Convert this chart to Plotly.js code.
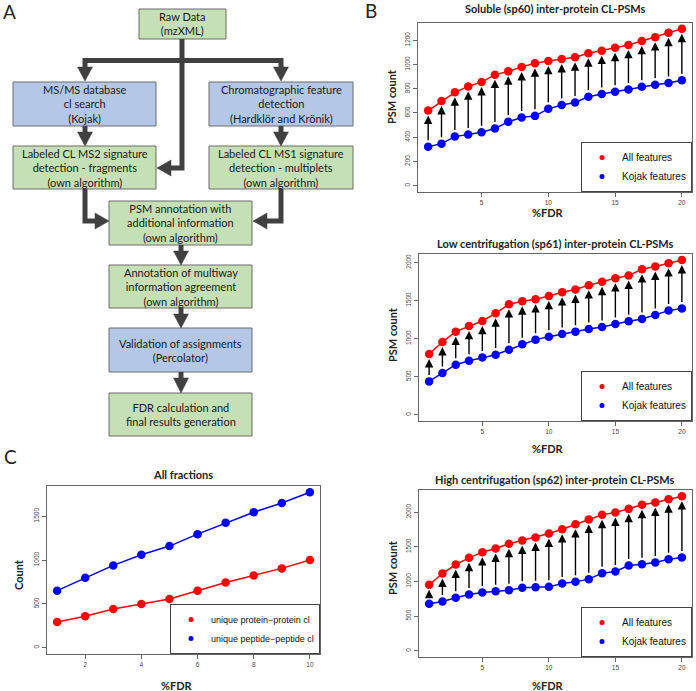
<!DOCTYPE html>
<html>
<head>
<meta charset="utf-8">
<script src="https://cdn.plot.ly/plotly-3.0.1.min.js"></script>
<style>body{margin:0;background:#fff}</style>
</head>
<body>
<div id="fig" style="width:696px;height:691px"></div>
<script>
var W = 696, H = 691;
function px(x) { return x / W; }
function py(y) { return 1 - y / H; }

// ---- panel B data (PSM counts per %FDR) ----
var fdr20 = [1, 2, 3, 4, 5, 6, 7, 8, 9, 10, 11, 12, 13, 14, 15, 16, 17, 18, 19, 20];
var sp60All = [620, 698, 770, 819, 855, 916, 943, 979, 1010, 1029, 1045, 1059, 1092, 1114, 1137, 1161, 1194, 1225, 1261, 1294];
var sp60Kojak = [322, 347, 405, 422, 441, 471, 527, 563, 576, 634, 665, 687, 734, 756, 775, 794, 817, 833, 847, 869];
var sp61All = [798, 956, 1092, 1167, 1232, 1333, 1452, 1491, 1518, 1561, 1610, 1645, 1702, 1746, 1794, 1829, 1912, 1947, 1991, 2031];
var sp61Kojak = [439, 548, 658, 711, 754, 789, 855, 925, 987, 1026, 1061, 1092, 1127, 1154, 1193, 1228, 1259, 1311, 1368, 1395];
var sp62All = [951, 1114, 1244, 1340, 1422, 1475, 1542, 1590, 1633, 1691, 1753, 1825, 1892, 1960, 1993, 2046, 2104, 2137, 2185, 2229];
var sp62Kojak = [677, 711, 764, 812, 841, 860, 874, 908, 917, 922, 970, 994, 1033, 1119, 1143, 1230, 1249, 1273, 1321, 1345];
var seriesNames = ["All features", "Kojak features"];

// ---- panel C data ----
var fdr10 = [1, 2, 3, 4, 5, 6, 7, 8, 9, 10];
var protProt = [295, 360, 443, 500, 557, 651, 745, 825, 905, 1000];
var pepPep = [651, 799, 939, 1060, 1159, 1295, 1424, 1545, 1651, 1773];
var cNames = ["unique protein\u2212protein cl", "unique peptide\u2212peptide cl"];

var RED = "#ff0000", BLUE = "#0000ff";
var txtFont = "Lato, 'Noto Sans', sans-serif";
var rFont = "'Liberation Sans', Arial, sans-serif";

var traces = [];
var annotations = [];
var shapes = [];

function addSeries(xa, ya, xs, ys, color, name, legendId) {
  traces.push({
    type: "scatter", mode: "lines+markers", x: xs, y: ys, xaxis: xa, yaxis: ya,
    line: {color: color, width: 1.5}, marker: {color: color, size: 8.5},
    showlegend: false, hoverinfo: "skip"
  });
  // legend entry only (dot, no line), like R's legend(pch = 19)
  traces.push({
    type: "scatter", mode: "markers", x: [null], y: [null], xaxis: xa, yaxis: ya,
    name: name, legend: legendId, marker: {color: color, size: 5}, showlegend: true
  });
}

function addArrows(xa, ya, xs, lo, hi) {
  for (var i = 0; i < xs.length; i++) {
    annotations.push({
      x: xs[i], y: hi[i], ax: xs[i], ay: lo[i],
      xref: xa, yref: ya, axref: xa, ayref: ya,
      text: "", showarrow: true, arrowhead: 2, arrowsize: 1.2, arrowwidth: 1.4,
      arrowcolor: "#000", standoff: 5, startstandoff: 5
    });
  }
}

addSeries("x", "y", fdr20, sp60All, RED, seriesNames[0], "legend");
addSeries("x", "y", fdr20, sp60Kojak, BLUE, seriesNames[1], "legend");
addArrows("x", "y", fdr20, sp60Kojak, sp60All);
addSeries("x2", "y2", fdr20, sp61All, RED, seriesNames[0], "legend2");
addSeries("x2", "y2", fdr20, sp61Kojak, BLUE, seriesNames[1], "legend2");
addArrows("x2", "y2", fdr20, sp61Kojak, sp61All);
addSeries("x3", "y3", fdr20, sp62All, RED, seriesNames[0], "legend3");
addSeries("x3", "y3", fdr20, sp62Kojak, BLUE, seriesNames[1], "legend3");
addArrows("x3", "y3", fdr20, sp62Kojak, sp62All);
addSeries("x4", "y4", fdr10, protProt, RED, cNames[0], "legend4");
addSeries("x4", "y4", fdr10, pepPep, BLUE, cNames[1], "legend4");

function xAxis(left, right, range, ticks, anchor) {
  return {
    domain: [px(left), px(right)], range: range, anchor: anchor, tickvals: ticks,
    showgrid: false, zeroline: false, showline: true, mirror: true,
    linecolor: "#666", linewidth: 1, ticks: "outside", ticklen: 4, tickcolor: "#666",
    tickfont: {family: rFont, size: 6.5, color: "#444"}, fixedrange: true
  };
}
function yAxis(top, bottom, range, ticks, anchor) {
  return {
    domain: [py(bottom), py(top)], range: range, anchor: anchor, tickvals: ticks,
    showgrid: false, zeroline: false, showline: true, mirror: true,
    linecolor: "#666", linewidth: 1, ticks: "outside", ticklen: 4, tickcolor: "#666",
    tickangle: -90, tickfont: {family: rFont, size: 6.5, color: "#444"}, fixedrange: true
  };
}
function legendAt(right, bottom, size) {
  return {
    x: px(right), y: py(bottom), xanchor: "right", yanchor: "bottom",
    bgcolor: "#fff", bordercolor: "#444", borderwidth: 1, itemwidth: 30,
    tracegroupgap: 0, font: {family: rFont, size: size, color: "#111"}
  };
}

// ---- text labels for the plots ----
function label(x, y, text, size, bold, angle) {
  annotations.push({
    xref: "paper", yref: "paper", x: px(x), y: py(y), text: bold ? "<b>" + text + "</b>" : text,
    showarrow: false, xanchor: "center", yanchor: "middle", textangle: angle || 0,
    font: {family: txtFont, size: size, color: "#222"}
  });
}
label(555, 8, "Soluble (sp60) inter-protein CL-PSMs", 11, true);
label(555, 243, "Low centrifugation (sp61) inter-protein CL-PSMs", 11, true);
label(555, 479, "High centrifugation (sp62) inter-protein CL-PSMs", 11, true);
label(183, 474, "All fractions", 11, true);
label(392, 97, "PSM count", 11, true, -90);
label(392, 335, "PSM count", 11, true, -90);
label(392, 568, "PSM count", 11, true, -90);
label(18, 575, "Count", 11, true, -90);
label(548, 212, "%FDR", 11, true);
label(548, 448, "%FDR", 11, true);
label(548, 685, "%FDR", 11, true);
label(177, 685, "%FDR", 11, true);
label(9, 12, "A", 19, false);
label(371, 10, "B", 19, false);
label(10, 457, "C", 19, false);

// ---- panel A flowchart ----
var GREEN = "#c5e0b4", LBLUE = "#b4c7e7", DARK = "#404040";
var boxes = [
  [139, 9, 226, 39, GREEN, "Raw Data<br>(mzXML)"],
  [13, 82, 156, 126, LBLUE, "MS/MS database<br>cl search<br>(Kojak)"],
  [209, 82, 353, 126, LBLUE, "Chromatographic feature<br>detection<br>(Hardkl\u00f6r and Kr\u00f6nik)"],
  [13, 146, 156, 189, GREEN, "Labeled CL MS2 signature<br>detection - fragments<br>(own algorithm)"],
  [209, 146, 353, 189, GREEN, "Labeled CL MS1 signature<br>detection - multiplets<br>(own algorithm)"],
  [109, 201, 252, 245, GREEN, "PSM annotation with<br>additional information<br>(own algorithm)"],
  [109, 265, 252, 308, GREEN, "Annotation of multiway<br>information agreement<br>(own algorithm)"],
  [109, 328, 252, 372, LBLUE, "Validation of assignments<br>(Percolator)"],
  [109, 393, 252, 436, GREEN, "FDR calculation and<br>final results generation"]
];
boxes.forEach(function (b) {
  shapes.push({
    type: "rect", xref: "paper", yref: "paper",
    x0: px(b[0]), x1: px(b[2]), y0: py(b[3]), y1: py(b[1]),
    fillcolor: b[4], line: {color: "#6a6a6a", width: 1}
  });
  annotations.push({
    xref: "paper", yref: "paper", x: px((b[0] + b[2]) / 2), y: py((b[1] + b[3]) / 2),
    text: b[5], showarrow: false, xanchor: "center", yanchor: "middle",
    font: {family: txtFont, size: 11, color: "#1a1a1a"}
  });
});

function polyline(pts) {
  var d = pts.map(function (p, i) { return (i ? "L" : "M") + px(p[0]) + "," + py(p[1]); }).join(" ");
  shapes.push({type: "path", xref: "paper", yref: "paper", path: d,
    line: {color: DARK, width: 5}, fillcolor: "rgba(0,0,0,0)"});
}
function tri(pts) {
  var d = pts.map(function (p, i) { return (i ? "L" : "M") + px(p[0]) + "," + py(p[1]); }).join(" ") + " Z";
  shapes.push({type: "path", xref: "paper", yref: "paper", path: d,
    line: {color: DARK, width: 0.5}, fillcolor: DARK});
}
function headDown(x, yBase, yTip) { tri([[x - 7.5, yBase], [x + 7.5, yBase], [x, yTip]]); }
function headSide(xBase, xTip, y) { tri([[xBase, y - 8], [xBase, y + 8], [xTip, y]]); }

// raw data stem and split
polyline([[182, 39], [182, 168], [171, 168]]);
headSide(171, 157, 168);
polyline([[85, 68], [85, 60.5], [281, 60.5], [281, 68]]);
headDown(85, 67, 81);
headDown(281, 67, 81);
// search boxes to signature boxes
polyline([[85, 126], [85, 133]]); headDown(85, 132, 146);
polyline([[281, 126], [281, 133]]); headDown(281, 132, 146);
// signature boxes to PSM annotation
polyline([[85, 189], [85, 221], [96, 221]]); headSide(95, 109, 221);
polyline([[281, 189], [281, 221], [266, 221]]); headSide(267, 253, 221);
// central column
polyline([[181, 245], [181, 252]]); headDown(181, 251, 265);
polyline([[181, 308], [181, 315]]); headDown(181, 314, 328);
polyline([[181, 372], [181, 379]]); headDown(181, 378, 393);

var layout = {
  width: W, height: H, margin: {l: 0, r: 0, t: 0, b: 0},
  paper_bgcolor: "#fff", plot_bgcolor: "#fff",
  xaxis: xAxis(418, 692, [0.24, 20.76], [5, 10, 15, 20], "y"),
  yaxis: yAxis(23, 192, [-52, 1342], [0, 200, 400, 600, 800, 1000, 1200], "x"),
  xaxis2: xAxis(419, 692, [0.24, 20.76], [5, 10, 15, 20], "y2"),
  yaxis2: yAxis(254, 421, [-81, 2111], [0, 500, 1000, 1500, 2000], "x2"),
  xaxis3: xAxis(419, 692, [0.24, 20.76], [5, 10, 15, 20], "y3"),
  yaxis3: yAxis(490, 657, [-89, 2318], [0, 500, 1000, 1500, 2000], "x3"),
  xaxis4: xAxis(47, 320, [0.64, 10.36], [2, 4, 6, 8, 10], "y4"),
  yaxis4: yAxis(486, 654, [-71, 1844], [0, 500, 1000, 1500], "x4"),
  legend: legendAt(692, 192, 10),
  legend2: legendAt(692, 421, 10),
  legend3: legendAt(692, 657, 10),
  legend4: legendAt(320, 654, 9),
  annotations: annotations,
  shapes: shapes,
  showlegend: true
};

Plotly.newPlot("fig", traces, layout, {displayModeBar: false, staticPlot: true});
</script>
</body>
</html>
